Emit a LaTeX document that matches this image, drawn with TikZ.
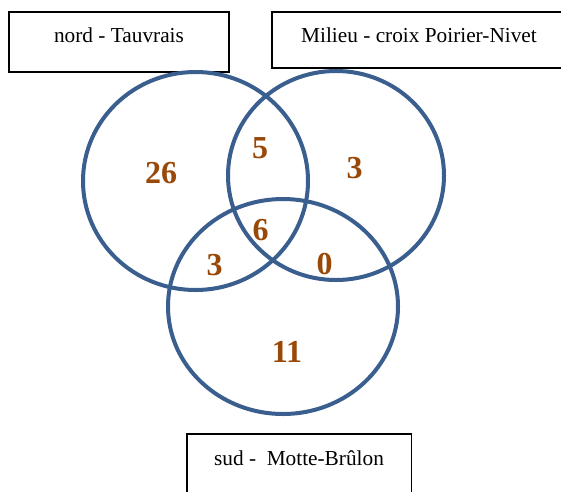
\documentclass[tikz,border=0pt]{standalone}
\usepackage{fontspec}
\setmainfont{Liberation Serif}
\usetikzlibrary{shapes.geometric}
\definecolor{ringblue}{HTML}{3A5F8E}
\definecolor{numbrown}{HTML}{984807}
\tikzset{
  ring/.style={ellipse, draw=ringblue, line width=4pt, inner sep=0pt},
  labelbox/.style={draw=black, line width=1.2pt},
  boxtext/.style={anchor=base, inner sep=0pt, font=\fontsize{21.3}{25}\selectfont},
  count/.style={anchor=base, inner sep=0pt, text=numbrown, font=\fontsize{32}{36}\selectfont\bfseries}
}
\begin{document}
\begin{tikzpicture}[x=1pt,y=-1pt]
\useasboundingbox (0,0) rectangle (561,491);
\clip (0,0) rectangle (561,491);
\fill[white] (0,0) rectangle (561,491);
% label boxes
\draw[labelbox] (9,12) rectangle (229,72);
\draw[labelbox] (272,12) rectangle (575,68);
\draw[labelbox] (187,434) rectangle (411.7,500);
\node[boxtext] (tnord) at (119,42.3) {nord - Tauvrais};
\node[boxtext] (tmil) at (419,42.3) {Milieu - croix Poirier-Nivet};
\node[boxtext] (tsud) at (299,465) {sud -\ \ Motte-Brûlon};
% circles
\node[ring, minimum width=225pt, minimum height=218pt] (cnord) at (195.5,181) {};
\node[ring, minimum width=216pt, minimum height=209pt] (cmil) at (336,175.5) {};
\node[ring, minimum width=230pt, minimum height=215pt] (csud) at (283,306.5) {};
% counts
\node[count] (n26) at (161,183) {26};
\node[count] (n5) at (260,158) {5};
\node[count] (n3r) at (354.5,178) {3};
\node[count] (n6) at (260.5,240) {6};
\node[count] (n0) at (324.5,274.5) {0};
\node[count] (n3l) at (214.5,275) {3};
\node[count] (n11) at (287,362) {11};
\end{tikzpicture}
\end{document}
